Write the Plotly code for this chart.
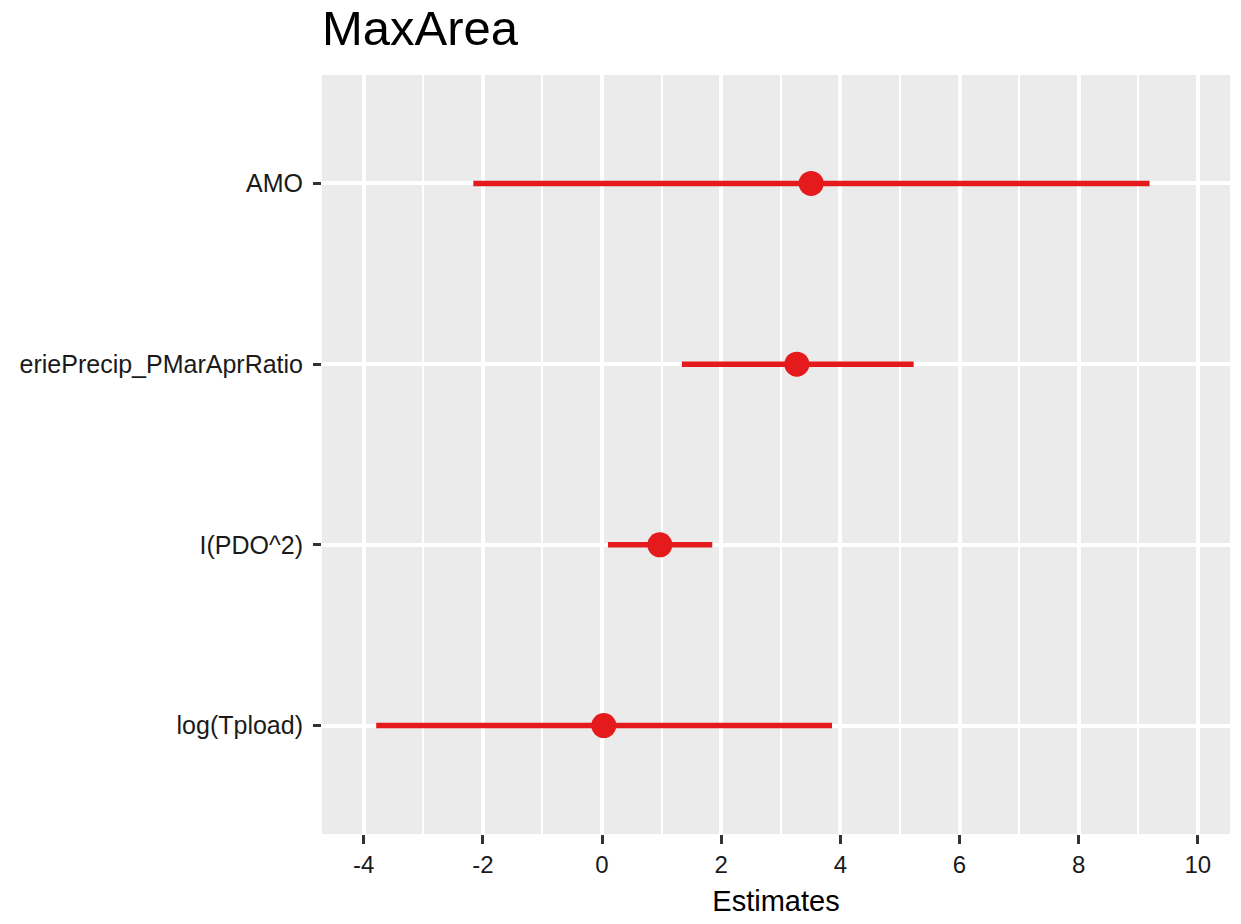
import plotly.graph_objects as go

# Model terms and their estimates with confidence limits
terms = ["log(Tpload)", "I(PDO^2)", "eriePrecip_PMarAprRatio", "AMO"]
estimates = [0.03, 0.97, 3.27, 3.51]
conf_low = [-3.79, 0.10, 1.34, -2.16]
conf_high = [3.86, 1.85, 5.23, 9.19]
x_ticks = [-4, -2, 0, 2, 4, 6, 8, 10]

RED = "#E41A1C"

fig = go.Figure()

# Confidence interval segments
for i, t in enumerate(terms):
    fig.add_trace(go.Scatter(
        x=[conf_low[i], conf_high[i]], y=[i, i],
        mode="lines", line=dict(color=RED, width=5.5),
        showlegend=False, hoverinfo="skip",
    ))

# Point estimates
fig.add_trace(go.Scatter(
    x=estimates, y=list(range(len(terms))),
    mode="markers", marker=dict(color=RED, size=25, line=dict(width=0)),
    showlegend=False, text=terms,
))

fig.update_layout(
    width=1241, height=924,
    margin=dict(l=322, r=11, t=75, b=90),
    paper_bgcolor="white",
    plot_bgcolor="#EBEBEB",
    font=dict(family="Liberation Sans, Arial, sans-serif", color="black"),
    title=dict(
        text="MaxArea", x=0, xref="paper", xanchor="left",
        y=0.97, yref="container", yanchor="middle",
        font=dict(size=49, color="black"),
    ),
    xaxis=dict(
        range=[-4.7, 10.54], tickvals=x_ticks, ticktext=[str(v) for v in x_ticks],
        showgrid=True, gridcolor="white", gridwidth=3.5,
        minor=dict(dtick=1, tick0=-5, showgrid=True, gridcolor="white", gridwidth=1.8),
        zeroline=False, showline=False,
        ticks="outside", ticklen=9, tickwidth=3, tickcolor="#333333",
        tickfont=dict(size=24, color="#1a1a1a"),
        title=dict(text="Estimates", font=dict(size=29, color="black"), standoff=13),
    ),
    yaxis=dict(
        range=[-0.6, 3.6], tickvals=list(range(len(terms))), ticktext=terms,
        showgrid=True, gridcolor="white", gridwidth=3.5,
        zeroline=False, showline=False,
        ticks="outside", ticklen=8, tickwidth=3, tickcolor="#333333",
        ticklabelstandoff=5,
        tickfont=dict(size=25, color="#1a1a1a"),
    ),
)

fig.write_html("out.html")
